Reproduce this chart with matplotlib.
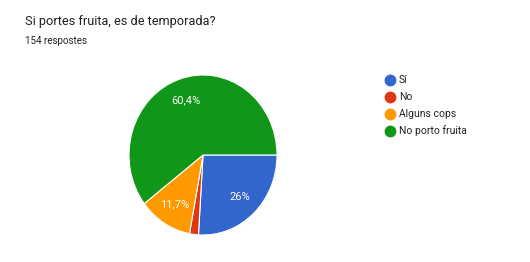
import matplotlib.pyplot as plt
from matplotlib.lines import Line2D
import numpy as np

# Google Forms style pie
labels = ['Sí', 'No', 'Alguns cops', 'No porto fruita']
counts = [40, 3, 18, 93]
pct_labels = ['26%', '', '11,7%', '60,4%']
colors = ['#3366CC', '#DC3912', '#FF9900', '#109618']

plt.rcParams['font.family'] = ['Roboto', 'DejaVu Sans']

fig = plt.figure(figsize=(5.3, 2.62), dpi=100)
fig.patch.set_facecolor('white')

# pie axes (slightly taller than wide, like the reference)
ax = fig.add_axes([129 / 530, 27 / 262, 148 / 530, 160 / 262])
wedges, _ = ax.pie(counts, colors=colors, startangle=0, counterclock=False,
                   wedgeprops=dict(edgecolor='white', linewidth=0.8))
ax.set_aspect('auto')
ax.set_xlim(-1, 1)
ax.set_ylim(-1, 1)

# percentage labels
total = sum(counts)
cum = 0
for c, t in zip(counts, pct_labels):
    mid = -(cum + c / 2) / total * 2 * np.pi
    cum += c
    if t:
        ax.text(0.72 * np.cos(mid), 0.72 * np.sin(mid), t, ha='center', va='center',
                color='white', fontsize=8)

fig.text(25 / 530, 1 - 21 / 262, 'Si portes fruita, es de temporada?',
         fontsize=9.2, color='#202124', ha='left', va='center')
fig.text(25 / 530, 1 - 41 / 262, '154 respostes',
         fontsize=7, color='#202124', ha='left', va='center')

# legend
for i, (lab, col) in enumerate(zip(labels, colors)):
    y = 1 - (80 + i * 17) / 262
    fig.add_artist(Line2D([390 / 530], [y], marker='o', markersize=7.5,
                          color=col, linestyle='none', transform=fig.transFigure))
    fig.text(399 / 530, y, lab, fontsize=7.5, color='#222222', ha='left', va='center')

fig.savefig('out.png', dpi=100, facecolor='white')
